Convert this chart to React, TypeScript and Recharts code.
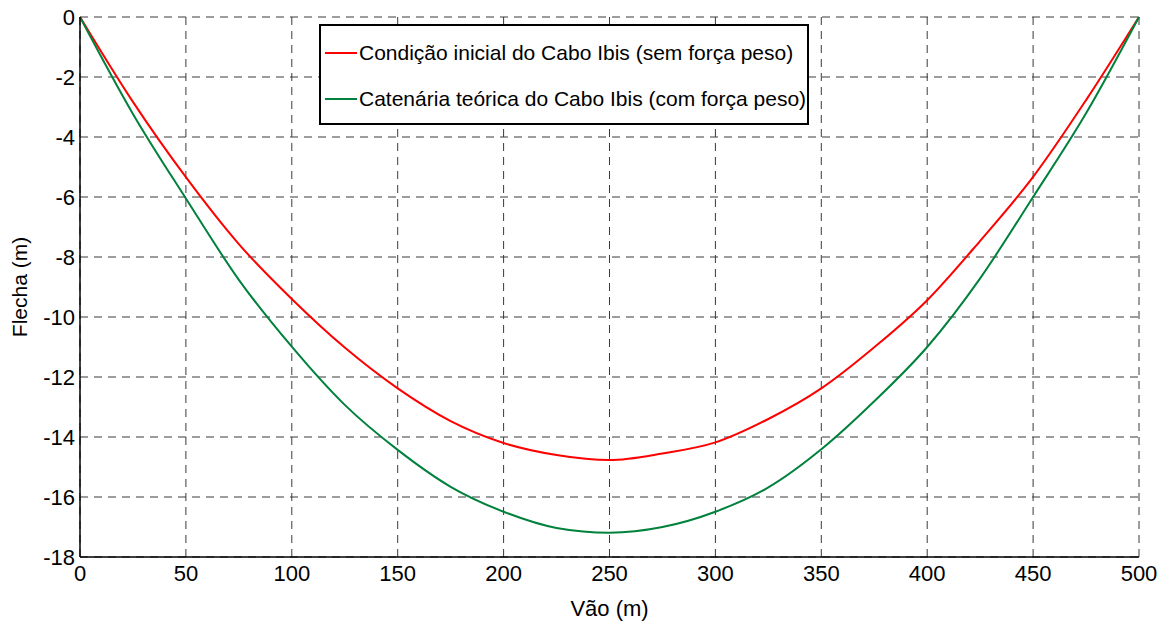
import React from "react";
import { LineChart, Line, XAxis, YAxis, CartesianGrid } from "recharts";

const spanX = [0, 25, 50, 75, 100, 125, 150, 175, 200, 225, 250, 275, 300, 325, 350, 375, 400, 425, 450, 475, 500];
const initialSag = [0, -2.83, -5.34, -7.57, -9.4, -11.02, -12.38, -13.47, -14.2, -14.6, -14.77, -14.55, -14.18, -13.4, -12.38, -11.01, -9.44, -7.46, -5.33, -2.77, 0];
const catenarySag = [0, -3.23, -6.05, -8.76, -10.99, -12.93, -14.43, -15.66, -16.49, -17.03, -17.19, -17.0, -16.49, -15.68, -14.41, -12.81, -11.0, -8.71, -6.0, -3.21, 0];
const xTicks = [0, 50, 100, 150, 200, 250, 300, 350, 400, 450, 500];
const yTicks = [0, -2, -4, -6, -8, -10, -12, -14, -16, -18];

const seriesNames = [
  "Condição inicial do Cabo Ibis (sem força peso)",
  "Catenária teórica do Cabo Ibis (com força peso)",
];
const seriesColors = ["#FF0000", "#00813C"];

const data = spanX.map((x, i) => ({ x, inicial: initialSag[i], catenaria: catenarySag[i] }));

const FONT = "'Liberation Sans', Arial, sans-serif";

const LegendBox = () => (
  <div
    style={{
      position: "absolute",
      left: 319,
      top: 24,
      width: 490,
      height: 101,
      boxSizing: "border-box",
      border: "2px solid #000",
      background: "#fff",
      fontFamily: FONT,
      fontSize: 21,
      color: "#000",
      whiteSpace: "nowrap",
    }}
  >
    {seriesNames.map((n, i) => (
      <div
        key={n}
        style={{ position: "absolute", left: 4, top: i === 0 ? 4 : 50, height: 46, display: "flex", alignItems: "center" }}
      >
        <span style={{ display: "inline-block", width: 32, height: 2, background: seriesColors[i], marginRight: 2 }} />
        <span>{n}</span>
      </div>
    ))}
  </div>
);

export default function App() {
  return (
    <div style={{ position: "absolute", left: 0, top: 0, width: 1170, height: 626, background: "#fff" }}>
      <LineChart width={1170} height={626} data={data} margin={{ top: 17, right: 31, bottom: 29, left: 0 }}>
        <CartesianGrid stroke="#3a3a3a" strokeDasharray="8 6" horizontal vertical />
        <XAxis
          dataKey="x"
          type="number"
          domain={[0, 500]}
          ticks={xTicks}
          height={40}
          tickLine={false}
          tickSize={0}
          axisLine={{ stroke: "#000", strokeWidth: 1.5 }}
          tick={{ fill: "#000", fontSize: 22, fontFamily: FONT }}
          tickMargin={8}
          label={{ value: "Vão (m)", position: "insideBottom", offset: -19, fill: "#000", fontSize: 22, fontFamily: FONT }}
        />
        <YAxis
          type="number"
          domain={[-18, 0]}
          ticks={yTicks}
          width={80}
          tickLine={false}
          tickSize={0}
          axisLine={{ stroke: "#000", strokeWidth: 1.5 }}
          tick={{ fill: "#000", fontSize: 22, fontFamily: FONT }}
          tickMargin={5}
          label={{ value: "Flecha (m)", angle: -90, position: "insideLeft", offset: 20, fill: "#000", fontSize: 21, fontFamily: FONT, style: { textAnchor: "middle" } }}
        />
        <Line dataKey="inicial" name={seriesNames[0]} stroke={seriesColors[0]} strokeWidth={2} dot={false} type="monotone" isAnimationActive={false} />
        <Line dataKey="catenaria" name={seriesNames[1]} stroke={seriesColors[1]} strokeWidth={2} dot={false} type="monotone" isAnimationActive={false} />
      </LineChart>
      <LegendBox />
    </div>
  );
}
